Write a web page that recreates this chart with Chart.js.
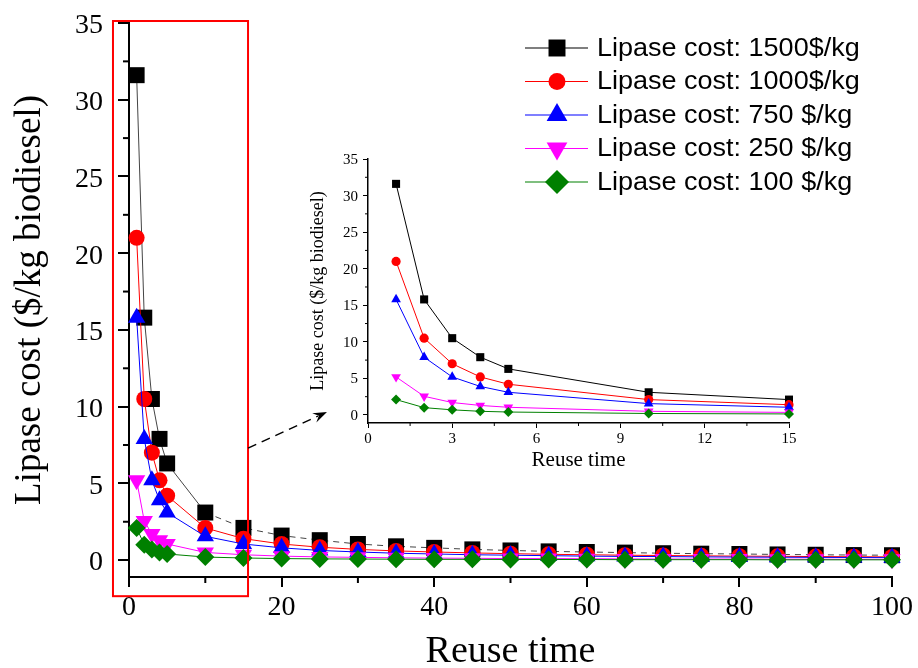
<!DOCTYPE html>
<html>
<head>
<meta charset="utf-8">
<script src="https://cdn.jsdelivr.net/npm/chart.js@4.4.1/dist/chart.umd.min.js"></script>
<style>
  html, body { margin: 0; padding: 0; background: #fff; }
  #wrap { position: relative; width: 918px; height: 668px; }
  #main { position: absolute; left: 0; top: 0; }
  #inset { position: absolute; left: 290px; top: 135px; }
</style>
</head>
<body>
<div id="wrap">
  <canvas id="main" width="918" height="668"></canvas>
  <canvas id="inset" width="520" height="345"></canvas>
</div>
<script>
// values
const reuseTimes = [1, 2, 3, 4, 5, 10, 15, 20, 25, 30, 35, 40, 45, 50, 55, 60, 65, 70, 75, 80, 85, 90, 95, 100]
const cost1500 = [31.6, 15.8, 10.5, 7.9, 6.3, 3.1, 2.1, 1.6, 1.3, 1.05, 0.9, 0.8, 0.7, 0.63, 0.57, 0.53, 0.49, 0.45, 0.42, 0.4, 0.37, 0.35, 0.33, 0.32]
const cost1000 = [21.0, 10.5, 7.0, 5.2, 4.2, 2.1, 1.4, 1.05, 0.84, 0.7, 0.6, 0.53, 0.47, 0.42, 0.38, 0.35, 0.32, 0.3, 0.28, 0.26, 0.25, 0.23, 0.22, 0.21]
const cost750 = [15.8, 7.9, 5.2, 3.9, 3.1, 1.55, 1.05, 0.8, 0.63, 0.53, 0.45, 0.4, 0.35, 0.32, 0.29, 0.26, 0.24, 0.23, 0.21, 0.2, 0.19, 0.18, 0.17, 0.16]
const cost250 = [5.2, 2.55, 1.7, 1.3, 1.05, 0.5, 0.35, 0.26, 0.21, 0.18, 0.15, 0.13, 0.12, 0.1, 0.1, 0.09, 0.08, 0.07, 0.07, 0.07, 0.06, 0.06, 0.05, 0.05]
const cost100 = [2.1, 1.0, 0.7, 0.5, 0.4, 0.2, 0.14, 0.1, 0.08, 0.07, 0.06, 0.05, 0.05, 0.04, 0.04, 0.04, 0.03, 0.03, 0.03, 0.03, 0.02, 0.02, 0.02, 0.02]

const seriesNames = [
  'Lipase cost: 1500$/kg',
  'Lipase cost: 1000$/kg',
  'Lipase cost: 750 $/kg',
  'Lipase cost: 250 $/kg',
  'Lipase cost: 100 $/kg',
]
const seriesValues = [cost1500, cost1000, cost750, cost250, cost100]

const mainXTicks = [0, 20, 40, 60, 80, 100]
const mainXMinor = [10, 30, 50, 70, 90]
const mainYTicks = [0, 5, 10, 15, 20, 25, 30, 35]
const mainYMinor = [2.5, 7.5, 12.5, 17.5, 22.5, 27.5, 32.5]
const insetXTicks = [0, 3, 6, 9, 12, 15]
const insetXMinor = [1.5, 4.5, 7.5, 10.5, 13.5]
const insetYTicks = [0, 5, 10, 15, 20, 25, 30, 35]
const insetYMinor = [2.5, 7.5, 12.5, 17.5, 22.5, 27.5, 32.5]
const insetMaxTime = 15

const colors = ['#000000', '#ff0000', '#0000ff', '#ff00ff', '#008000']
const pointStyles = ['rect', 'circle', 'triangle', 'triangle', 'rectRot']
const rotations = [0, 0, 0, 180, 0]
const mainRadius = [11.3, 8, 10, 10, 9]
const insetRadius = [5.7, 4.6, 5.6, 5.6, 5]
const legendRadius = [12, 8.5, 12, 12, 12]

const serif = "'Liberation Serif', 'Times New Roman', serif"
const sans = "'Liberation Sans', Arial, sans-serif"

const minorTicks = {
  id: 'minorTicks',
  afterDraw(chart, args, opts) {
    const { ctx, chartArea, scales } = chart
    ctx.save()
    ctx.strokeStyle = '#000'
    ctx.lineWidth = opts.width
    opts.x.forEach((v) => {
      const px = scales.x.getPixelForValue(v)
      ctx.beginPath()
      ctx.moveTo(px, chartArea.bottom)
      ctx.lineTo(px, chartArea.bottom + opts.length)
      ctx.stroke()
    })
    opts.y.forEach((v) => {
      const py = scales.y.getPixelForValue(v)
      ctx.beginPath()
      ctx.moveTo(chartArea.left, py)
      ctx.lineTo(chartArea.left - opts.length, py)
      ctx.stroke()
    })
    ctx.restore()
  },
}

// red box around the zoomed range, dashed arrow and the legend
const decor = {
  id: 'decor',
  afterDraw(chart) {
    const { ctx, scales } = chart
    const x = scales.x
    const y = scales.y
    ctx.save()

    ctx.strokeStyle = '#ff0000'
    ctx.lineWidth = 2
    const x0 = x.getPixelForValue(-2.1)
    const x1 = x.getPixelForValue(15.6)
    const y0 = y.getPixelForValue(35.13)
    const y1 = y.getPixelForValue(-2.35)
    ctx.strokeRect(x0, y0, x1 - x0, y1 - y0)

    const ax = x1
    const ay = y.getPixelForValue(7.3)
    const bx = x.getPixelForValue(25.95)
    const by = y.getPixelForValue(9.65)
    const ang = Math.atan2(by - ay, bx - ax)
    ctx.strokeStyle = '#000'
    ctx.lineWidth = 1.5
    ctx.setLineDash([9, 6])
    ctx.beginPath()
    ctx.moveTo(ax, ay)
    ctx.lineTo(bx - 10 * Math.cos(ang), by - 10 * Math.sin(ang))
    ctx.stroke()
    ctx.setLineDash([])
    ctx.fillStyle = '#000'
    ctx.beginPath()
    ctx.moveTo(bx, by)
    ctx.lineTo(bx - 14 * Math.cos(ang) + 5 * Math.sin(ang), by - 14 * Math.sin(ang) - 5 * Math.cos(ang))
    ctx.lineTo(bx - 9 * Math.cos(ang), by - 9 * Math.sin(ang))
    ctx.lineTo(bx - 14 * Math.cos(ang) - 5 * Math.sin(ang), by - 14 * Math.sin(ang) + 5 * Math.cos(ang))
    ctx.closePath()
    ctx.fill()

    ctx.font = '25px ' + sans
    ctx.textBaseline = 'middle'
    seriesNames.forEach((name, i) => {
      const rowY = 48 + i * 33.5
      ctx.strokeStyle = colors[i]
      ctx.lineWidth = 1.2
      ctx.beginPath()
      ctx.moveTo(525, rowY)
      ctx.lineTo(588, rowY)
      ctx.stroke()
      ctx.fillStyle = colors[i]
      Chart.helpers.drawPoint(ctx, {
        pointStyle: pointStyles[i],
        rotation: rotations[i],
        radius: legendRadius[i],
        borderWidth: 0,
      }, 557, rowY)
      ctx.save()
      ctx.translate(597, rowY + 1)
      ctx.scale(1.08, 1)
      ctx.fillStyle = '#000'
      ctx.fillText(name, 0, 0)
      ctx.restore()
    })
    ctx.restore()
  },
}

function makeDatasets(times, radius, main) {
  return seriesValues.map((values, i) => ({
    label: seriesNames[i],
    data: times.map((t, j) => ({ x: t, y: values[j] })),
    borderColor: i === 0 && main ? '#444' : colors[i],
    backgroundColor: colors[i],
    borderWidth: 1,
    pointStyle: pointStyles[i],
    rotation: rotations[i],
    pointRadius: radius[i],
    pointBorderWidth: 0,
    pointBackgroundColor: colors[i],
    tension: 0,
    clip: false,
    order: 4 - i,
    segment: i === 0 && main ? { borderDash: (c) => (c.p0.parsed.x >= 10 ? [6, 5] : undefined) } : {},
  }))
}

function axis(opts) {
  return {
    type: 'linear',
    min: opts.min,
    max: opts.max,
    afterBuildTicks: (scale) => {
      scale.ticks = opts.ticks.map((v) => ({ value: v }))
    },
    afterFit: opts.fit,
    border: { display: true, color: '#000', width: opts.border },
    grid: {
      drawOnChartArea: false,
      drawTicks: true,
      tickLength: opts.tickLength,
      color: '#000',
      lineWidth: opts.tickWidth,
    },
    ticks: {
      color: '#000',
      font: { family: serif, size: opts.fontSize },
      padding: opts.tickPadding,
      labelOffset: opts.labelOffset || 0,
      maxRotation: 0,
      autoSkip: false,
    },
    title: {
      display: true,
      text: opts.title,
      color: '#000',
      font: { family: serif, size: opts.titleSize, lineHeight: 1 },
      padding: opts.titlePadding,
    },
  }
}

new Chart(document.getElementById('main'), {
  type: 'scatter',
  data: { datasets: makeDatasets(reuseTimes, mainRadius, true) },
  options: {
    responsive: false,
    animation: false,
    showLine: true,
    layout: { padding: { left: 0, top: 23, right: 26, bottom: 0 } },
    plugins: {
      legend: { display: false },
      tooltip: { enabled: false },
      minorTicks: { x: mainXMinor, y: mainYMinor, length: 6, width: 2 },
    },
    scales: {
      x: axis({
        min: 0, max: 100, ticks: mainXTicks, fit: (s) => { s.height = 91 },
        border: 2, tickLength: 10, tickWidth: 2, fontSize: 28, tickPadding: 4,
        title: 'Reuse time', titleSize: 38, titlePadding: { top: 0, bottom: -3 },
      }),
      y: axis({
        min: -1.1, max: 35, ticks: mainYTicks,
        fit: (s) => { s.width = 129; s.paddingTop = 0; s.paddingBottom = 0 },
        border: 2, tickLength: 11, tickWidth: 2, fontSize: 28, tickPadding: 15, labelOffset: 3,
        title: 'Lipase cost ($/kg biodiesel)', titleSize: 37, titlePadding: { top: 12, bottom: 0 },
      }),
    },
  },
  plugins: [minorTicks, decor],
})

const insetTimes = reuseTimes.filter((t) => t <= insetMaxTime)

new Chart(document.getElementById('inset'), {
  type: 'scatter',
  data: { datasets: makeDatasets(insetTimes, insetRadius, false) },
  options: {
    responsive: false,
    animation: false,
    showLine: true,
    layout: { padding: { left: 0, top: 24, right: 21, bottom: 0 } },
    plugins: {
      legend: { display: false },
      tooltip: { enabled: false },
      minorTicks: { x: insetXMinor, y: insetYMinor, length: 3, width: 1 },
    },
    scales: {
      x: axis({
        min: 0, max: 15, ticks: insetXTicks, fit: (s) => { s.height = 57 },
        border: 1.5, tickLength: 5, tickWidth: 1, fontSize: 15, tickPadding: 2,
        title: 'Reuse time', titleSize: 21, titlePadding: { top: 0, bottom: 9 },
      }),
      y: axis({
        min: -1.1, max: 35, ticks: insetYTicks,
        fit: (s) => { s.width = 78; s.paddingTop = 0; s.paddingBottom = 0 },
        border: 1.5, tickLength: 5, tickWidth: 1, fontSize: 15, tickPadding: 5, labelOffset: 1,
        title: 'Lipase cost ($/kg biodiesel)', titleSize: 18, titlePadding: { top: 19, bottom: 0 },
      }),
    },
  },
  plugins: [minorTicks],
})
</script>
</body>
</html>
